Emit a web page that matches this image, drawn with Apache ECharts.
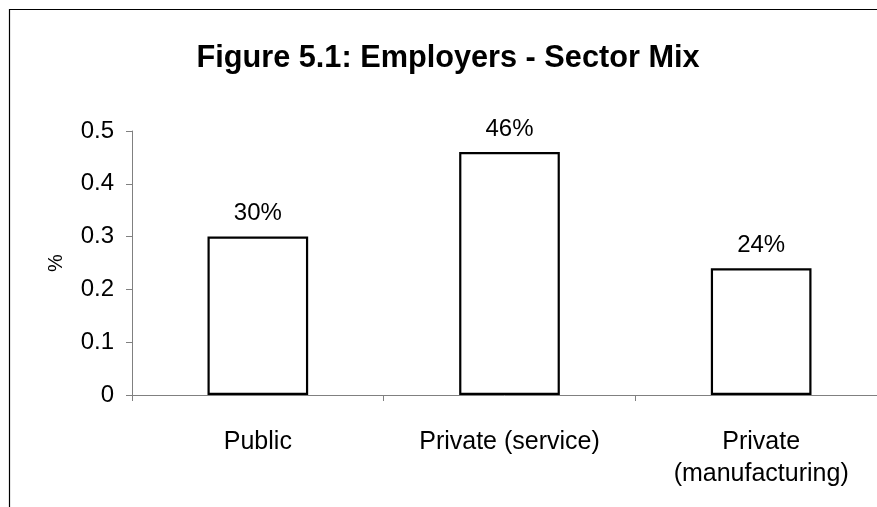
<!DOCTYPE html>
<html>
<head>
<meta charset="utf-8">
<script src="https://cdn.jsdelivr.net/npm/echarts@6/dist/echarts.min.js"></script>
<style>
html,body{margin:0;padding:0;background:#fff;}
#main{width:877px;height:507px;}
</style>
</head>
<body>
<div id="main"></div>
<script>
var titleText = 'Figure 5.1: Employers - Sector Mix';
var categories = ['Public', 'Private (service)', 'Private\n(manufacturing)'];
var values = [0.30, 0.46, 0.24];
var yTicks = { min: 0, max: 0.5, interval: 0.1 };
var yName = '%';

var font = '"Liberation Sans", Arial, sans-serif';
var chart = echarts.init(document.getElementById('main'), null, {renderer: 'canvas'});
chart.setOption({
  animation: false,
  backgroundColor: '#fff',
  title: {
    text: titleText,
    left: 443, textAlign: 'center',
    top: 38,
    textStyle: { fontFamily: font, fontSize: 30.7, fontWeight: 'bold', color: '#000' }
  },
  graphic: [{
    type: 'rect', silent: true,
    shape: { x: 9.5, y: 9.5, width: 1200, height: 1200 },
    style: { fill: 'none', stroke: '#000', lineWidth: 1.2 }
  }],
  grid: { left: 132, top: 131, height: 264, width: 755, containLabel: false, outerBoundsMode: 'none' },
  xAxis: {
    type: 'category',
    data: categories,
    boundaryGap: true,
    axisLine: { lineStyle: { color: '#808080', width: 1 } },
    axisTick: { show: true, alignWithLabel: false, length: 6, inside: false, lineStyle: { color: '#808080' } },
    axisLabel: { fontFamily: font, fontSize: 25, color: '#000', margin: 31, lineHeight: 32, verticalAlign: 'top', interval: 0 },
    splitLine: { show: false }
  },
  yAxis: {
    type: 'value',
    min: yTicks.min, max: yTicks.max, interval: yTicks.interval,
    name: yName,
    nameLocation: 'middle',
    nameRotate: 90,
    nameGap: 66,
    nameTextStyle: { fontFamily: font, fontSize: 20, color: '#000' },
    axisLine: { show: true, lineStyle: { color: '#808080', width: 1 } },
    axisTick: { show: true, length: 6, lineStyle: { color: '#808080' } },
    axisLabel: { fontFamily: font, fontSize: 24, color: '#000', margin: 18 },
    splitLine: { show: false }
  },
  series: [{
    type: 'bar',
    data: values,
    barWidth: '40%',
    itemStyle: { color: '#fff', borderColor: '#000', borderWidth: 2.2 },
    label: {
      show: true, position: 'top', distance: 11,
      fontFamily: font, fontSize: 24, color: '#000',
      formatter: function (p) { return Math.round(p.value * 100) + '%'; }
    }
  }]
});
</script>
</body>
</html>
